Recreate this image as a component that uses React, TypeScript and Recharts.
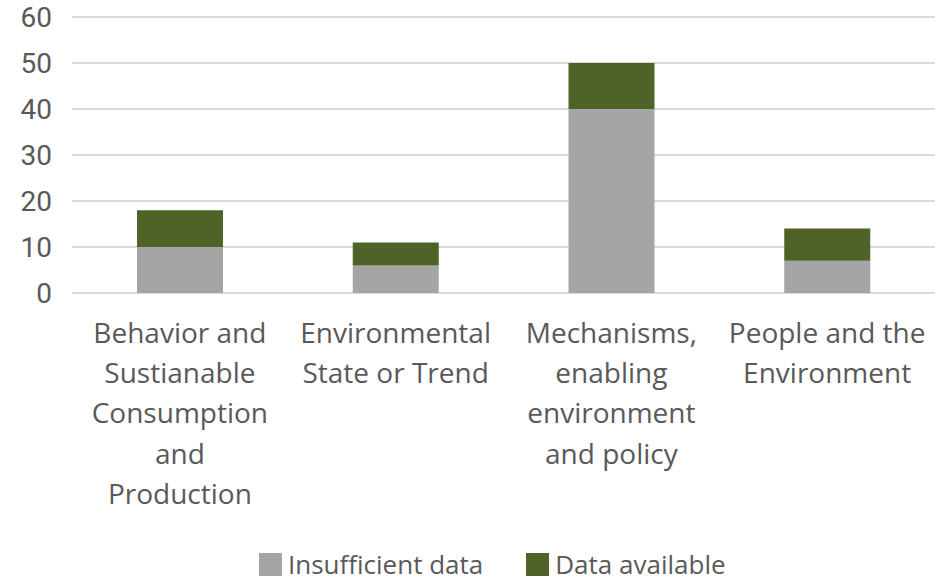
import React from "react";
import { BarChart, Bar, XAxis, YAxis, CartesianGrid, Legend } from "recharts";

const categories = [
  "Behavior and Sustainable Consumption and Production",
  "Environmental State or Trend",
  "Mechanisms, enabling environment and policy",
  "People and the Environment",
];
const categoryLines = [
  ["Behavior and", "Sustianable", "Consumption", "and", "Production"],
  ["Environmental", "State or Trend"],
  ["Mechanisms,", "enabling", "environment", "and policy"],
  ["People and the", "Environment"],
];
const seriesNames = ["Insufficient data", "Data available"];
const seriesColors = ["#A5A5A5", "#4F6228"];
const insufficientData = [10, 6, 40, 7];
const dataAvailable = [8, 5, 10, 7];
const yTicks = [0, 10, 20, 30, 40, 50, 60];

const data = categories.map((c, i) => ({
  name: c,
  insufficient: insufficientData[i],
  available: dataAvailable[i],
}));

const FONT = "'Open Sans', sans-serif";
const TICK_FONT = "Roboto, 'Open Sans', sans-serif";
const TEXT = "#595959";

const XTick = (props: any) => {
  const { x, y, payload } = props;
  const idx = categories.indexOf(payload.value);
  const lines = categoryLines[idx] || [payload.value];
  return (
    <text x={x} y={y} textAnchor="middle" fill={TEXT} fontSize={28} fontFamily={FONT}>
      {lines.map((l, i) => (
        <tspan key={i} x={x} dy={i === 0 ? 42 : 40.2}>
          {l}
        </tspan>
      ))}
    </text>
  );
};

const LegendContent = () => (
  <div
    style={{
      display: "flex",
      justifyContent: "flex-start",
      alignItems: "center",
      fontFamily: FONT,
      fontSize: 26,
      color: TEXT,
      paddingLeft: 259,
      height: 40,
    }}
  >
    {seriesNames.map((n, i) => (
      <div key={n} style={{ display: "flex", alignItems: "center", marginRight: i === 0 ? 43 : 0 }}>
        <span style={{ display: "inline-block", width: 23, height: 23, background: seriesColors[i], marginRight: 6 }} />
        <span>{n}</span>
      </div>
    ))}
  </div>
);

export default function App() {
  return (
    <div style={{ position: "absolute", left: 0, top: 0, background: "#fff" }}>
      <BarChart
        width={945}
        height={584}
        data={data}
        margin={{ top: 17, right: 10, bottom: 0, left: 0 }}
      >
        <CartesianGrid vertical={false} stroke="#D9D9D9" strokeWidth={2} />
        <XAxis
          dataKey="name"
          axisLine={false}
          tickLine={false}
          tick={<XTick />}
          interval={0}
          height={251}
        />
        <YAxis
          domain={[0, 60]}
          ticks={yTicks}
          axisLine={false}
          tickLine={false}
          tickSize={0}
          tickMargin={20}
          width={72}
          tick={{ fill: TEXT, fontSize: 28, fontFamily: TICK_FONT }}
        />
        <Legend verticalAlign="bottom" height={40} content={<LegendContent />} />
        <Bar dataKey="insufficient" name={seriesNames[0]} stackId="a" fill={seriesColors[0]} barSize={86} isAnimationActive={false} />
        <Bar dataKey="available" name={seriesNames[1]} stackId="a" fill={seriesColors[1]} barSize={86} isAnimationActive={false} />
      </BarChart>
    </div>
  );
}
